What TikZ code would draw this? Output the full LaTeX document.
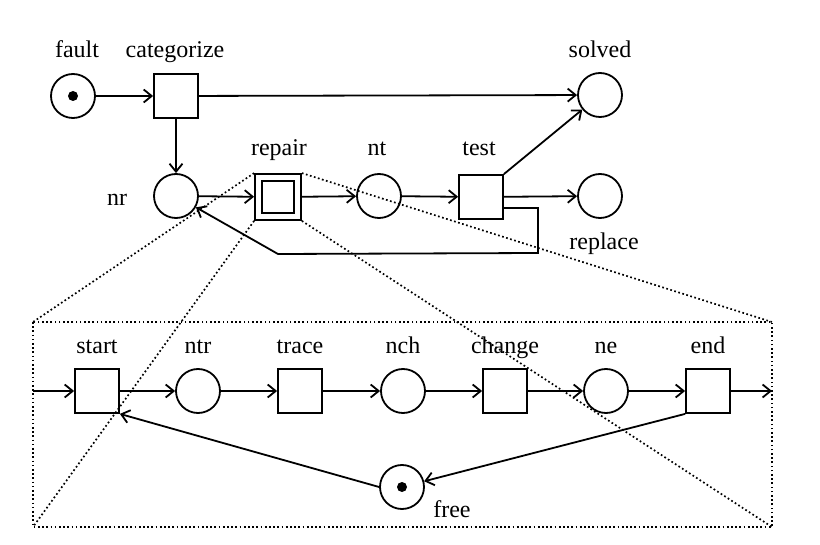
\documentclass[tikz,border=0pt]{standalone}
\usepackage{fontspec}
\setmainfont{Liberation Serif}
\usetikzlibrary{arrows.meta}

\begin{document}
\begin{tikzpicture}[
    x=1pt, y=-1pt,
    >={Straight Barb[length=8pt,width=13pt]},
    line width=1.8pt,
    place/.style={draw,circle,minimum size=44pt,inner sep=0pt},
    trans/.style={draw,rectangle,minimum size=44pt,inner sep=0pt},
    token/.style={circle,fill=black,minimum size=10pt,inner sep=0pt},
    label text/.style={font=\fontsize{24}{28}\selectfont,inner sep=0pt,anchor=base},
    flow/.style={->},
    zoom line/.style={line width=1.7pt,dash pattern=on 1.7pt off 2.5pt}
    ]
    \useasboundingbox (0,0) rectangle (820,545);
    % nodes
    % top net
    \node [place] (fault) at (73,96) {};
    \node [token] (fault token) at (fault) {};
    \node [trans] (categorize) at (176,96) {};
    \node [place] (solved) at (600,95) {};
    \node [place] (nr) at (176,196) {};
    \node [trans,minimum size=46pt] (repair) at (278,197) {};
    \node [trans,minimum size=32pt] (repair inner) at (repair) {};
    \node [place] (nt) at (379,196) {};
    \node [trans] (test) at (481,197) {};
    \node [place] (replace) at (600,196) {};
    % labels
    \node [label text] (fault label) at (77,58) {fault};
    \node [label text] (categorize label) at (175,58) {categorize};
    \node [label text] (solved label) at (600,58) {solved};
    \node [label text] (nr label) at (117,206) {nr};
    \node [label text] (repair label) at (279,156) {repair};
    \node [label text] (nt label) at (377,156) {nt};
    \node [label text] (test label) at (479,156) {test};
    \node [label text] (replace label) at (604,250) {replace};
    % zoomed subnet
    \coordinate (zTL) at (33,322);
    \coordinate (zTR) at (772,322);
    \coordinate (zBL) at (33,527);
    \coordinate (zBR) at (772,527);
    \draw [zoom line] (zTL) rectangle (zBR);
    \draw [zoom line] (repair.north west) -- (zTL);
    \draw [zoom line] (repair.north east) -- (zTR);
    \draw [zoom line] (repair.south west) -- (zBL);
    \draw [zoom line] (repair.south east) -- (zBR);
    \foreach \name/\type/\x in {start/trans/97,ntr/place/198,trace/trans/300,nch/place/403,change/trans/505,ne/place/606,end/trans/708} {
        \node [\type] (\name) at (\x,391) {};
        \node [label text] (\name label) at (\x,354) {\name};
    }
    \node [place] (free) at (402,487) {};
    \node [token] (free token) at (free) {};
    \node [label text] (free label) at (452,517) {free};
    % edges
    % top net
    \draw [flow] (fault) -- (categorize);
    \draw [flow] (categorize) -- (solved);
    \draw [flow] (categorize) -- (nr);
    \draw [flow] (nr) -- (repair);
    \draw [flow] (repair) -- (nt);
    \draw [flow] (nt) -- (test);
    \draw [flow] (test.north east) -- (solved);
    \draw [flow] (test) -- (replace);
    % test - nr
    \coordinate (back1) at (538,253);
    \coordinate (back2) at (278,254);
    \draw [flow] ([yshift=-11pt]test.east) -| (back1) -- (back2) -- (nr);
    % subnet
    \coordinate (sub in) at (33,391);
    \coordinate (sub out) at (772,391);
    \draw [flow] (sub in) -- (start);
    \foreach \a/\b in {start/ntr,ntr/trace,trace/nch,nch/change,change/ne,ne/end} {
        \draw [flow] (\a) -- (\b);
    }
    \draw [flow] (end) -- (sub out);
    \draw [flow] (end.south west) -- (free);
    \draw [flow] (free.west) -- (start.south east);
\end{tikzpicture}
\end{document}
